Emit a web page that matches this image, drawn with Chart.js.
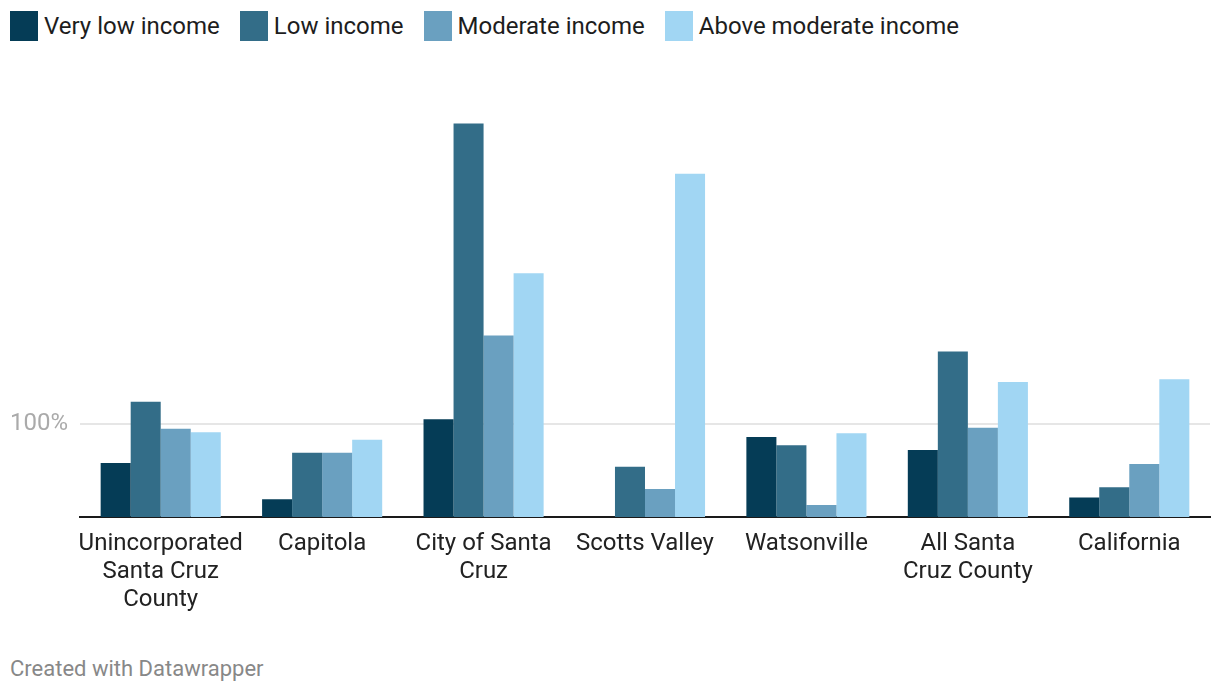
<!DOCTYPE html>
<html>
<head>
<meta charset="utf-8">
<script src="https://cdn.jsdelivr.net/npm/chart.js@4"></script>
<style>
  html, body { margin: 0; padding: 0; background: #fff; }
  body { width: 1220px; height: 694px; position: relative; overflow: hidden; font-family: Roboto, sans-serif; }
  #legend { position: absolute; left: 10px; top: 11px; display: flex; gap: 20px; }
  .item { display: flex; align-items: center; font-size: 24px; color: #1d1d1d; }
  .sw { width: 28px; height: 30px; margin-right: 6px; }
  #wrap { position: absolute; left: 0; top: 72px; width: 1220px; height: 545px; }
  #foot { position: absolute; left: 10px; top: 656px; font-size: 22px; color: #888; }
</style>
</head>
<body>
<div id="legend"></div>
<div id="wrap"><canvas id="c"></canvas></div>
<div id="foot">Created with Datawrapper</div>
<script>
/* Datos (porcentaje) */
const categories = [
  ['Unincorporated', 'Santa Cruz', 'County'],
  'Capitola',
  ['City of Santa', 'Cruz'],
  'Scotts Valley',
  'Watsonville',
  ['All Santa', 'Cruz County'],
  'California',
];
const seriesNames = ['Very low income', 'Low income', 'Moderate income', 'Above moderate income'];
const veryLow = [58, 19, 105, null, 86, 72, 21];
const low = [124, 69, 423, 54, 77, 178, 32];
const moderate = [95, 69, 195, 30, 13, 96, 57];
const aboveModerate = [91, 83, 262, 369, 90, 145, 148];
const yTicks = [100];
const colors = ['#053c56', '#336d88', '#6aa0c0', '#a1d6f3'];

const values = [veryLow, low, moderate, aboveModerate];

/* Leyenda en HTML */
const legend = document.getElementById('legend');
seriesNames.forEach((name, i) => {
  const el = document.createElement('div');
  el.className = 'item';
  el.innerHTML = `<span class="sw" style="background:${colors[i]}"></span>${name}`;
  legend.appendChild(el);
});

new Chart(document.getElementById('c'), {
  type: 'bar',
  data: {
    labels: categories,
    datasets: seriesNames.map((name, i) => ({
      label: name,
      data: values[i],
      backgroundColor: colors[i],
      borderWidth: 0,
      categoryPercentage: 0.744,
      barPercentage: 1,
    })),
  },
  options: {
    responsive: true, maintainAspectRatio: false, animation: false,
    layout: { padding: { left: 0, right: 10, top: 0, bottom: 0 } },
    plugins: { legend: { display: false }, tooltip: { enabled: false } },
    scales: {
      x: {
        grid: { display: false },
        border: { display: true, color: '#1a1a1a', width: 2 },
        ticks: { color: '#222', font: { family: 'Roboto', size: 24, lineHeight: 1.17 }, padding: 5, maxRotation: 0, autoSkip: false },
        afterFit: (s) => { s.height = 100; },
      },
      y: {
        min: 0, max: 450,
        border: { display: false },
        grid: { color: '#e6e6e6', lineWidth: 2, drawTicks: false },
        ticks: { color: '#aaa', font: { family: 'Roboto', size: 24 }, padding: 12, callback: (v) => v + '%' },
        afterBuildTicks: (s) => { s.ticks = yTicks.map((v) => ({ value: v })); },
        afterFit: (s) => { s.width = 80; },
      },
    },
  },
});
</script>
</body>
</html>
